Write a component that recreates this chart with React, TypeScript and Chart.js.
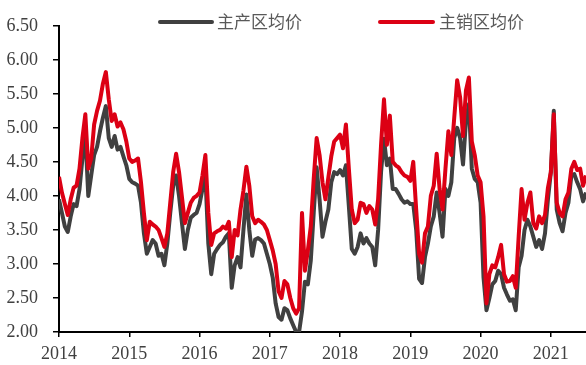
import React, { useEffect, useRef } from "react";
import { Chart, registerables } from "chart.js";

Chart.register(...registerables);

// Half-month sampling from Jan 2014 to mid-2021
const START_YEAR = 2014;
const POINTS_PER_YEAR = 24;

const seriesNames = ["主产区均价", "主销区均价"];

// 主产区均价 (production areas)
const producerPrices = [
  3.95, 3.75, 3.55, 3.47, 3.70, 3.88, 3.85, 4.10, 4.55, 4.90,
  4.00, 4.30, 4.60, 4.72, 4.95, 5.15, 5.32, 4.85, 4.72, 4.88,
  4.68, 4.72, 4.58, 4.45, 4.25, 4.20, 4.18, 4.15, 3.90, 3.45,
  3.15, 3.25, 3.35, 3.30, 3.12, 3.15, 2.98, 3.30, 3.75, 4.15,
  4.30, 4.00, 3.60, 3.22, 3.50, 3.68, 3.72, 3.75, 3.88, 4.10,
  4.30, 3.30, 2.85, 3.15, 3.22, 3.28, 3.32, 3.40, 3.45, 2.65,
  2.98, 3.10, 2.95, 3.50, 4.02, 3.50, 3.12, 3.36, 3.38, 3.35,
  3.30, 3.15, 3.00, 2.80, 2.42, 2.22, 2.18, 2.35, 2.32, 2.20,
  2.10, 2.00, 2.00, 2.30, 2.74, 2.70, 3.05, 3.75, 4.42, 3.95,
  3.40, 3.62, 3.80, 4.20, 4.35, 4.32, 4.38, 4.30, 4.45, 3.85,
  3.22, 3.15, 3.25, 3.45, 3.30, 3.38, 3.30, 3.25, 2.98, 3.50,
  4.35, 4.84, 4.45, 4.55, 4.10, 4.10, 4.03, 3.95, 3.90, 3.92,
  3.88, 3.88, 3.50, 2.78, 2.72, 3.10, 3.30, 3.55, 3.70, 4.05,
  3.75, 3.40, 4.10, 4.00, 4.20, 4.85, 5.00, 4.85, 4.46, 5.10,
  5.35, 4.40, 4.25, 4.20, 3.90, 2.80, 2.32, 2.50, 2.70, 2.75,
  2.90, 2.85, 2.65, 2.55, 2.46, 2.48, 2.32, 2.95, 3.12, 3.50,
  3.65, 3.55, 3.40, 3.25, 3.35, 3.22, 3.45, 3.95, 4.35, 5.25,
  3.80, 3.60, 3.48, 3.75, 3.90, 4.30, 4.32, 4.20, 4.10, 3.92,
  4.05,
];

// 主销区均价 (consumption areas)
const consumerPrices = [
  4.28, 4.05, 3.88, 3.72, 3.95, 4.12, 4.15, 4.40, 4.85, 5.20,
  4.40, 4.55, 5.05, 5.25, 5.40, 5.65, 5.82, 5.42, 5.10, 5.20,
  5.02, 5.08, 4.98, 4.80, 4.55, 4.50, 4.52, 4.55, 4.20, 3.75,
  3.35, 3.62, 3.58, 3.55, 3.50, 3.38, 3.25, 3.45, 3.90, 4.35,
  4.62, 4.35, 3.98, 3.60, 3.75, 3.90, 3.97, 4.00, 4.05, 4.30,
  4.60, 3.75, 3.28, 3.45, 3.48, 3.50, 3.55, 3.52, 3.62, 3.10,
  3.50, 3.42, 3.80, 4.08, 4.43, 4.15, 3.70, 3.60, 3.65, 3.62,
  3.58, 3.50, 3.35, 3.20, 3.00, 2.60, 2.50, 2.75, 2.70, 2.50,
  2.35, 2.27, 2.35, 3.75, 2.90, 3.20, 3.55, 4.25, 4.85, 4.60,
  4.20, 3.95, 4.27, 4.58, 4.80, 4.85, 4.90, 4.70, 5.05, 4.40,
  3.80, 3.60, 3.65, 3.90, 3.88, 3.75, 3.85, 3.80, 3.58, 3.95,
  4.75, 5.42, 4.75, 5.18, 4.50, 4.45, 4.42, 4.35, 4.30, 4.28,
  4.22, 4.50, 3.80, 3.15, 3.02, 3.45, 3.55, 4.00, 4.15, 4.62,
  4.10, 3.80, 4.40, 4.95, 4.60, 5.15, 5.70, 5.45, 4.88, 5.55,
  5.74, 4.80, 4.60, 4.30, 4.20, 3.70, 2.42, 2.85, 2.98, 2.95,
  3.10, 3.28, 2.85, 2.74, 2.75, 2.82, 2.65, 3.40, 4.10, 3.65,
  3.90, 4.05, 3.60, 3.52, 3.70, 3.60, 3.72, 4.12, 4.35, 5.20,
  3.90, 3.75, 3.70, 3.95, 4.05, 4.40, 4.50, 4.38, 4.40, 4.15,
  4.30,
];

const yTicks = [2.0, 2.5, 3.0, 3.5, 4.0, 4.5, 5.0, 5.5, 6.0, 6.5];
const yearTicks = [2014, 2015, 2016, 2017, 2018, 2019, 2020, 2021];

const GRAY = "#404040";
const RED = "#DC0014";
const TEXT = "#404040";

const toPoints = (vals: number[]) =>
  vals.map((v, i) => ({ x: START_YEAR + i / POINTS_PER_YEAR, y: v }));

const legendPlugin = {
  id: "customLegend",
  afterDraw(chart: any) {
    const ctx = chart.ctx;
    const items = [
      { label: seriesNames[0], color: GRAY, x0: 160, x1: 212, tx: 217 },
      { label: seriesNames[1], color: RED, x0: 380, x1: 433, tx: 439 },
    ];
    const y = 22;
    ctx.save();
    items.forEach((it) => {
      ctx.beginPath();
      ctx.strokeStyle = it.color;
      ctx.lineWidth = 4;
      ctx.lineCap = "round";
      ctx.moveTo(it.x0, y);
      ctx.lineTo(it.x1, y);
      ctx.stroke();
      ctx.fillStyle = "#595959";
      ctx.font = "17px 'Noto Sans CJK SC'";
      ctx.textAlign = "left";
      ctx.textBaseline = "middle";
      ctx.fillText(it.label, it.tx, y);
    });
    ctx.restore();
  },
};

export default function App() {
  const ref = useRef<HTMLCanvasElement>(null);

  useEffect(() => {
    if (!ref.current) return;
    const chart = new Chart(ref.current, {
      type: "line",
      data: {
        datasets: [
          {
            label: seriesNames[0],
            data: toPoints(producerPrices),
            borderColor: GRAY,
            backgroundColor: GRAY,
            borderWidth: 4,
            pointRadius: 0,
            tension: 0,
            borderJoinStyle: "round",
            order: 1,
          },
          {
            label: seriesNames[1],
            data: toPoints(consumerPrices),
            borderColor: RED,
            backgroundColor: RED,
            borderWidth: 4,
            pointRadius: 0,
            tension: 0,
            borderJoinStyle: "round",
            order: 0,
          },
        ],
      },
      options: {
        responsive: false,
        animation: false,
        layout: { padding: { top: 16, left: 0, right: 0, bottom: 0 } },
        plugins: {
          legend: { display: false },
          tooltip: { enabled: false },
        },
        scales: {
          x: {
            type: "linear",
            min: START_YEAR,
            max: START_YEAR + (producerPrices.length - 1) / POINTS_PER_YEAR,
            afterBuildTicks: (scale: any) => {
              scale.ticks = yearTicks.map((v) => ({ value: v }));
            },
            afterFit: (scale: any) => {
              scale.height = 33;
            },
            border: { display: true, color: "#000", width: 2 },
            grid: {
              drawOnChartArea: false,
              drawTicks: true,
              tickLength: 5,
              color: "#000",
              lineWidth: 1.5,
            },
            ticks: {
              autoSkip: false,
              maxRotation: 0,
              padding: 6,
              color: TEXT,
              font: { family: "'Liberation Serif'", size: 18 },
              callback: (v: any) => String(v),
            },
          },
          y: {
            type: "linear",
            min: 2,
            max: 6.5,
            afterBuildTicks: (scale: any) => {
              scale.ticks = yTicks.map((v) => ({ value: v }));
            },
            afterFit: (scale: any) => {
              scale.width = 59;
            },
            border: { display: true, color: "#000", width: 2 },
            grid: {
              drawOnChartArea: false,
              drawTicks: true,
              tickLength: 6,
              color: "#000",
              lineWidth: 1.5,
            },
            ticks: {
              padding: 15,
              color: TEXT,
              font: { family: "'Liberation Serif'", size: 18 },
              callback: (v: any) => Number(v).toFixed(2),
            },
          },
        },
      },
      plugins: [legendPlugin],
    });
    return () => chart.destroy();
  }, []);

  return (
    <div style={{ position: "absolute", left: 0, top: 0, width: 586, height: 365, background: "#fff" }}>
      <canvas ref={ref} width={586} height={365} />
    </div>
  );
}
